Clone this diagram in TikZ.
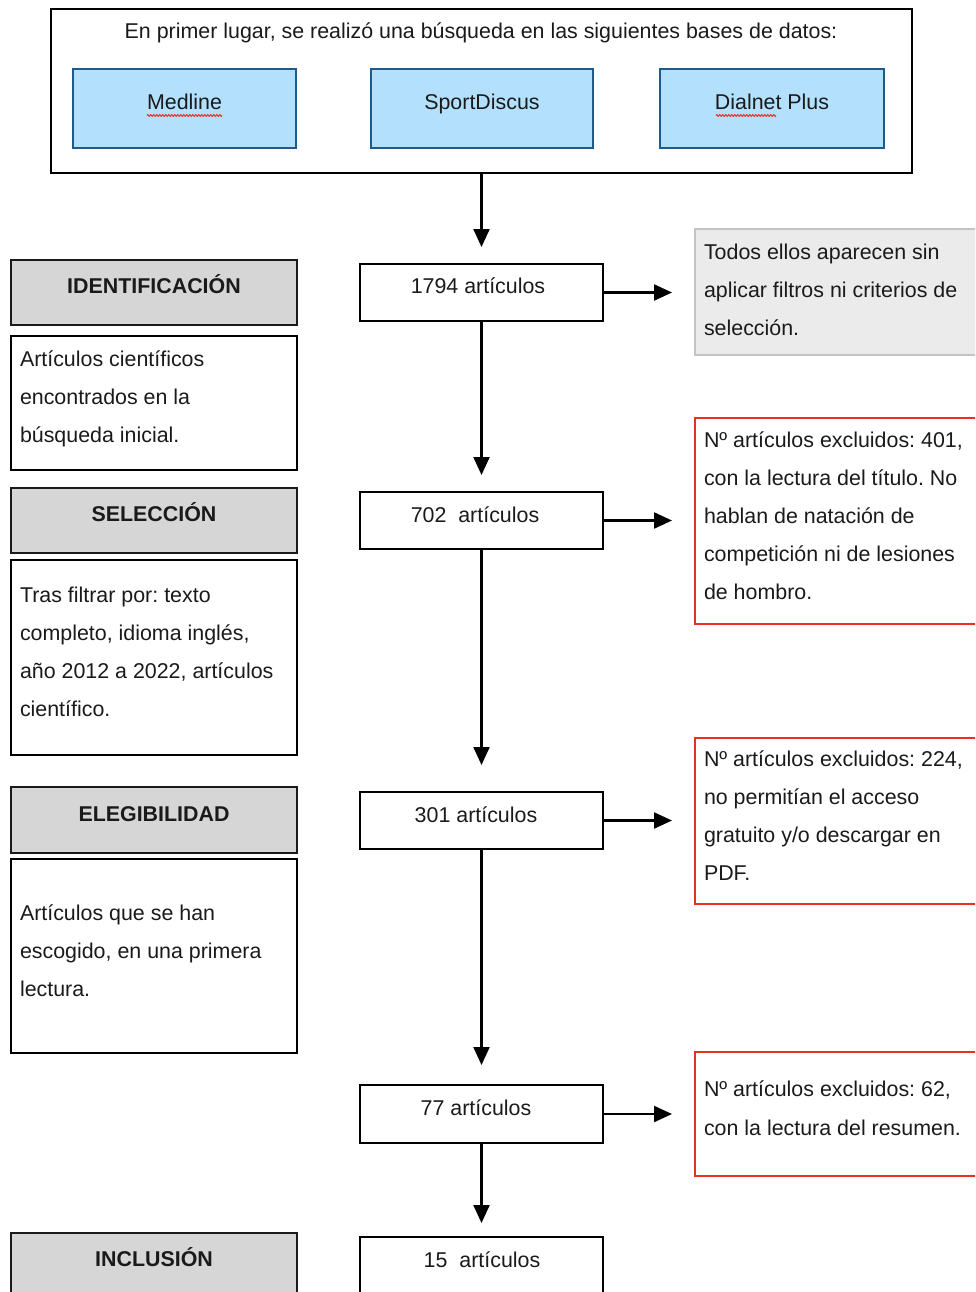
\documentclass[tikz,border=0pt]{standalone}
\usepackage{fontspec}
\setmainfont{Liberation Sans}
\frenchspacing
\usetikzlibrary{arrows.meta,decorations.pathmorphing}
\definecolor{dbfill}{HTML}{B3E0FD}
\definecolor{dbline}{HTML}{1F5A8C}
\definecolor{phasefill}{HTML}{D6D6D6}
\definecolor{notefill}{HTML}{EBEBEB}
\definecolor{noteline}{HTML}{C4C4C4}
\definecolor{exred}{HTML}{E8301F}
\definecolor{txt}{HTML}{1A1A1A}
\begin{document}
\begin{tikzpicture}[x=1pt,y=-1pt,
  every node/.style={inner sep=0pt,outer sep=0pt,text=txt},
  box/.style={draw=black,line width=2pt,rectangle,anchor=north west},
  dbbox/.style={draw=dbline,fill=dbfill,line width=1.8pt,rectangle,anchor=north west},
  phasebox/.style={draw=txt,fill=phasefill,line width=2pt,rectangle,anchor=north west},
  notebox/.style={draw=noteline,fill=notefill,line width=1.8pt,rectangle,anchor=north west},
  redbox/.style={draw=exred,line width=1.5pt,rectangle,anchor=north west},
  lbl/.style={font=\fontsize{21.4}{38}\selectfont,anchor=base},
  para/.style={font=\fontsize{21.4}{38}\selectfont,anchor=base west,align=left},
  bold/.style={font=\fontsize{21.4}{38}\selectfont\bfseries,anchor=base},
  flow/.style={line width=2.2pt,-{Triangle[width=16pt,length=18pt]}},
  squig/.style={exred,line width=1pt,decorate,decoration={zigzag,amplitude=0.9pt,segment length=3pt}}
]
\useasboundingbox (0,0) rectangle (975,1292);
\clip (0,0) rectangle (975,1292);

% top search box
\node[box,minimum width=861pt,minimum height=164pt] (top) at (51,9) {};
\node[lbl] (toptxt) at (481,39) {En primer lugar, se realizó una búsqueda en las siguientes bases de datos:};
\node[dbbox,minimum width=223pt,minimum height=79pt] (med) at (73,69) {};
\node[dbbox,minimum width=222pt,minimum height=79pt] (spo) at (371,69) {};
\node[dbbox,minimum width=224pt,minimum height=79pt] (dia) at (660,69) {};
\node[lbl] (medt) at (184.5,110) {Medline};
\node[lbl] (spot) at (482,110) {SportDiscus};
\node[lbl] (diat) at (772,110) {Dialnet Plus};
\draw[squig] (147,115.5) -- (222,115.5);
\draw[squig] (716,115.5) -- (776,115.5);

% flow boxes
\node[box,minimum width=243pt,minimum height=57pt] (n1794) at (360,264) {};
\node[lbl] (n1794t) at (478,293) {1794 artículos};
\node[box,minimum width=243pt,minimum height=57pt] (n702) at (360,492) {};
\node[lbl] (n702t) at (475,522) {702\ \ artículos};
\node[box,minimum width=243pt,minimum height=57pt] (n301) at (360,792) {};
\node[lbl] (n301t) at (476,822) {301 artículos};
\node[box,minimum width=243pt,minimum height=58pt] (n77) at (360,1085) {};
\node[lbl] (n77t) at (476,1115) {77 artículos};
\node[box,minimum width=243pt,minimum height=80pt] (n15) at (360,1237) {};
\node[lbl] (n15t) at (482,1267) {15\ \ artículos};

% phase boxes
\node[phasebox,minimum width=286pt,minimum height=65pt] (ph1) at (11,260) {};
\node[bold] (ph1t) at (154,293) {IDENTIFICACIÓN};
\node[box,minimum width=286pt,minimum height=134pt] (d1) at (11,336) {};
\node[para] (d1t) at (20,442) {Artículos científicos\\encontrados en la\\búsqueda inicial.};
\node[phasebox,minimum width=286pt,minimum height=65pt] (ph2) at (11,488) {};
\node[bold] (ph2t) at (154,521) {SELECCIÓN};
\node[box,minimum width=286pt,minimum height=195pt] (d2) at (11,560) {};
\node[para] (d2t) at (20,716) {Tras filtrar por: texto\\completo, idioma inglés,\\año 2012 a 2022, artículos\\científico.};
\node[phasebox,minimum width=286pt,minimum height=66pt] (ph3) at (11,787) {};
\node[bold] (ph3t) at (154,821) {ELEGIBILIDAD};
\node[box,minimum width=286pt,minimum height=194pt] (d3) at (11,859) {};
\node[para] (d3t) at (20,996) {Artículos que se han\\escogido, en una primera\\lectura.};
\node[phasebox,minimum width=286pt,minimum height=90pt] (ph4) at (11,1233) {};
\node[bold] (ph4t) at (154,1266) {INCLUSIÓN};

% side notes
\node[notebox,minimum width=300pt,minimum height=126pt] (note) at (695,229) {};
\node[para] (notet) at (704,335) {Todos ellos aparecen sin\\aplicar filtros ni criterios de\\selección.};
\node[redbox,minimum width=300pt,minimum height=206pt] (ex1) at (695,418) {};
\node[para] (ex1t) at (704,599) {Nº artículos excluidos: 401,\\con la lectura del título. No\\hablan de natación de\\competición ni de lesiones\\de hombro.};
\node[redbox,minimum width=300pt,minimum height=166pt] (ex2) at (695,738) {};
\node[para] (ex2t) at (704,880) {Nº artículos excluidos: 224,\\no permitían el acceso\\gratuito y/o descargar en\\PDF.};
\node[redbox,minimum width=300pt,minimum height=124pt] (ex3) at (695,1052) {};
\node[para,font=\fontsize{21.4}{39}\selectfont] (ex3t) at (704,1135) {Nº artículos excluidos: 62,\\con la lectura del resumen.};

% arrow ends
\coordinate (a1) at (482,247);
\coordinate (a2) at (482,475);
\coordinate (a3) at (482,765);
\coordinate (a4) at (482,1065);
\coordinate (a5) at (482,1223);
\coordinate (hx) at (672,0);

\draw[flow] (top.south -| n1794.north) -- (a1 -| n1794.north);
\draw[flow] (n1794.south) -- (a2 -| n1794.south);
\draw[flow] (n702.south) -- (a3 -| n702.south);
\draw[flow] (n301.south) -- (a4 -| n301.south);
\draw[flow] (n77.south) -- (a5 -| n77.south);
\draw[flow] (n1794.east) -- (n1794.east -| hx);
\draw[flow] (n702.east) -- (n702.east -| hx);
\draw[flow] (n301.east) -- (n301.east -| hx);
\draw[flow] (n77.east) -- (n77.east -| hx);
\end{tikzpicture}
\end{document}
